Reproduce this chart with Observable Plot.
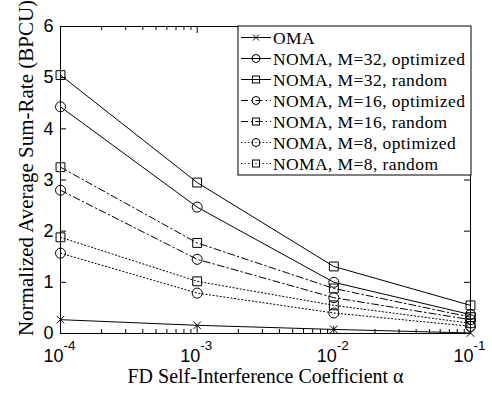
<!DOCTYPE html>
<html><head><meta charset="utf-8">
<script src="https://cdn.jsdelivr.net/npm/d3@7"></script>
<script src="https://cdn.jsdelivr.net/npm/@observablehq/plot@0.6"></script>
<style>body{margin:0;background:#fff}</style>
</head><body><div id="chart"></div>
<script>
const alpha = [1e-4, 1e-3, 1e-2, 1e-1];
const oma     = [0.27, 0.16, 0.08, 0.01];
const m32opt  = [4.43, 2.47, 1.00, 0.37];
const m32rand = [5.05, 2.95, 1.31, 0.55];
const m16opt  = [2.80, 1.45, 0.70, 0.27];
const m16rand = [3.25, 1.77, 0.88, 0.32];
const m8opt   = [1.57, 0.79, 0.40, 0.14];
const m8rand  = [1.88, 1.02, 0.55, 0.20];
const seriesNames = ["OMA","NOMA, M=32, optimized","NOMA, M=32, random","NOMA, M=16, optimized","NOMA, M=16, random","NOMA, M=8, optimized","NOMA, M=8, random"];
const xTickExp = ["-4","-3","-2","-1"];
const yTicks = [0,1,2,3,4,5,6];
const xLabel = "FD Self-Interference Coefficient \u03b1";
const yLabel = "Normalized Average Sum-Rate (BPCU)";
const minorX = [];
for (let e = -4; e < -1; e++) for (let k = 2; k <= 9; k++) minorX.push(k * Math.pow(10, e));

const values = [oma, m32opt, m32rand, m16opt, m16rand, m8opt, m8rand];
const styles = [
  {sym:"times", dash:null},
  {sym:"circle", dash:null},
  {sym:"square", dash:null},
  {sym:"circle", dash:"7,3,1.5,3"},
  {sym:"square", dash:"7,3,1.5,3"},
  {sym:"circle", dash:"1.2,2.4"},
  {sym:"square", dash:"1.2,2.4"}
];
const rows = [];
values.forEach((v, s) => v.forEach((y, i) => rows.push({s, name: seriesNames[s], x: alpha[i], y})));

const W = 492, H = 395, mL = 60, mR = 22, mT = 26, mB = 62;
const fh = H - mT - mB, fw = W - mL - mR;
const serif = "'Liberation Serif', serif";
const sans = "'Liberation Sans', Arial, sans-serif";

const marks = [];
values.forEach((v, s) => {
  const d = rows.filter(r => r.s === s);
  marks.push(Plot.line(d, {x:"x", y:"y", stroke:"black", strokeWidth:1, strokeDasharray: styles[s].dash || undefined}));
  marks.push(Plot.dot(d, {x:"x", y:"y", symbol: styles[s].sym, r: styles[s].sym === "times" ? 3.5 : 5, stroke:"black", strokeWidth:1, fill:"none"}));
});
// ticks (inside)
marks.push(Plot.tickX(alpha, {x:d=>d, insetTop: fh - 7, stroke:"black", strokeWidth:1}));
marks.push(Plot.tickX(alpha, {x:d=>d, insetBottom: fh - 7, stroke:"black", strokeWidth:1}));
marks.push(Plot.tickX(minorX, {x:d=>d, insetTop: fh - 4, stroke:"black", strokeWidth:1}));
marks.push(Plot.tickX(minorX, {x:d=>d, insetBottom: fh - 4, stroke:"black", strokeWidth:1}));
marks.push(Plot.tickY(yTicks, {y:d=>d, insetRight: fw - 6, stroke:"black", strokeWidth:1}));
marks.push(Plot.tickY(yTicks, {y:d=>d, insetLeft: fw - 6, stroke:"black", strokeWidth:1}));
marks.push(Plot.frame({stroke:"black", strokeWidth:1}));
// tick labels
marks.push(Plot.text(alpha, {x:d=>d, y:0, text:()=> "10", textAnchor:"end", dx:3, dy:23, fontSize:18, fontFamily:sans, fill:"black"}));
marks.push(Plot.text(alpha, {x:d=>d, y:0, text:(d,i)=> xTickExp[i], textAnchor:"start", dx:3, dy:12, fontSize:13.5, fontFamily:sans, fill:"black"}));
marks.push(Plot.text(yTicks, {x:1e-4, y:d=>d, text:d=>String(d), textAnchor:"end", dx:-7, fontSize:18, fontFamily:sans, fill:"black"}));
// x axis label
marks.push(Plot.text([xLabel], {frameAnchor:"bottom", text:d=>d, dy:49, fontSize:20, fontFamily:serif, fill:"black", letterSpacing:"0.9px"}));

const plot = Plot.plot({
  width: W, height: H, marginLeft: mL, marginRight: mR, marginTop: mT, marginBottom: mB,
  x: {type:"log", domain:[1e-4, 1e-1], axis:null},
  y: {domain:[0, 6], axis:null},
  style: {background:"white", overflow:"visible"},
  marks
});
document.getElementById("chart").appendChild(plot);

const svg = d3.select(plot);
// y axis label
svg.append("text").attr("transform", "translate(33,168) rotate(-90)")
  .attr("text-anchor", "middle").attr("font-family", serif).attr("font-size", 21)
  .attr("fill", "black").text(yLabel);

// legend inside the frame (top-right)
const lx = 238, ly = 26, lw = 233, lh = 149;
const g = svg.append("g").attr("text-anchor", "start");
g.append("rect").attr("x", lx).attr("y", ly).attr("width", lw).attr("height", lh).attr("fill", "white").attr("stroke", "black").attr("stroke-width", 1);
seriesNames.forEach((name, i) => {
  const y = ly + 11.5 + i * 21;
  const st = styles[i];
  g.append("line").attr("x1", lx + 3).attr("x2", lx + 33).attr("y1", y).attr("y2", y)
    .attr("stroke", "black").attr("stroke-width", 1).attr("stroke-dasharray", st.dash);
  const cx = lx + 18;
  if (st.sym === "circle") g.append("circle").attr("cx", cx).attr("cy", y).attr("r", 4).attr("fill", "none").attr("stroke", "black");
  else if (st.sym === "square") g.append("rect").attr("x", cx - 3.5).attr("y", y - 3.5).attr("width", 7).attr("height", 7).attr("fill", "none").attr("stroke", "black");
  else g.append("path").attr("d", `M${cx-3},${y-3}L${cx+3},${y+3}M${cx-3},${y+3}L${cx+3},${y-3}`).attr("stroke", "black");
  g.append("text").attr("x", lx + 35).attr("y", y).attr("dy", "0.35em").attr("font-family", serif)
    .attr("font-size", 17.5).attr("letter-spacing", "0.4px").attr("fill", "black").text(name);
});
</script></body></html>
